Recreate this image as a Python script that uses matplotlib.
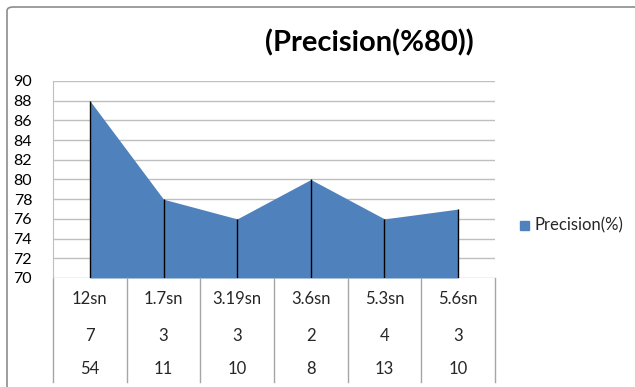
import matplotlib
matplotlib.use("Agg")
import matplotlib.pyplot as plt
from matplotlib.patches import FancyBboxPatch, Rectangle
import matplotlib.transforms as mtransforms

categories = ["12sn", "1.7sn", "3.19sn", "3.6sn", "5.3sn", "5.6sn"]
row2 = ["7", "3", "3", "2", "4", "3"]
row3 = ["54", "11", "10", "8", "13", "10"]
precision = [88, 78, 76, 80, 76, 77]
yticks = [70, 72, 74, 76, 78, 80, 82, 84, 86, 88, 90]

plt.rcParams['font.family'] = ['Lato', 'DejaVu Sans']

W, H = 635, 387
fig = plt.figure(figsize=(W / 100, H / 100), dpi=100)

# outer chart frame (cropped at right/bottom)
frame = FancyBboxPatch((7 / W, -0.1), 1.2, 1 - 7 / H + 0.1,
                       boxstyle="round,pad=0,rounding_size=0.01",
                       transform=fig.transFigure, fill=False,
                       edgecolor="#8c8c8c", linewidth=1.2)
fig.patches.append(frame)

x0, x1, ytop, ybot = 53, 495, 81, 278
ax = fig.add_axes([x0 / W, 1 - ybot / H, (x1 - x0) / W, (ybot - ytop) / H])
n = len(categories)
xs = [i + 0.5 for i in range(n)]

ax.set_xlim(0, n)
ax.set_ylim(70, 90)
for y in yticks:
    ax.axhline(y, color="#bfbfbf", linewidth=1, zorder=0)

ax.fill_between(xs, 70, precision, color="#4f81bd", linewidth=0, zorder=2,
                label="Precision(%)")
ax.vlines(xs, 70, precision, color="black", linewidth=1, zorder=3)

ax.set_yticks(yticks)
ax.set_yticklabels([str(v) for v in yticks], fontsize=11.5)
ax.tick_params(axis="y", length=0, pad=15)
ax.set_xticks([])
for s in ["top", "right", "bottom"]:
    ax.spines[s].set_visible(False)
ax.spines["left"].set_color("#bfbfbf")

# data table below axis
trans = mtransforms.blended_transform_factory(ax.transData, ax.transAxes)
hpx = ybot - ytop
tbl_bottom = -(382 - ybot) / hpx
for i in range(n + 1):
    ax.plot([i, i], [0, tbl_bottom], color="#a6a6a6", linewidth=1,
            transform=trans, clip_on=False)
rows_y = [299, 336, 369]
for row, ypx in zip([categories, row2, row3], rows_y):
    for i, t in enumerate(row):
        ax.text(i + 0.5, -(ypx - ybot) / hpx, t, transform=trans,
                ha="center", va="center", fontsize=12, color="#262626")

fig.text(369 / W, 1 - 43 / H, "(Precision(%80))", ha="center", va="center",
         fontsize=21, fontweight="bold")

# legend
fig.patches.append(Rectangle((520 / W, 1 - 230 / H), 9 / W, 9 / H,
                             transform=fig.transFigure, color="#4f81bd"))
fig.text(535 / W, 1 - 225 / H, "Precision(%)", ha="left", va="center",
         fontsize=12, color="#262626")

fig.savefig("out.png", dpi=100)
